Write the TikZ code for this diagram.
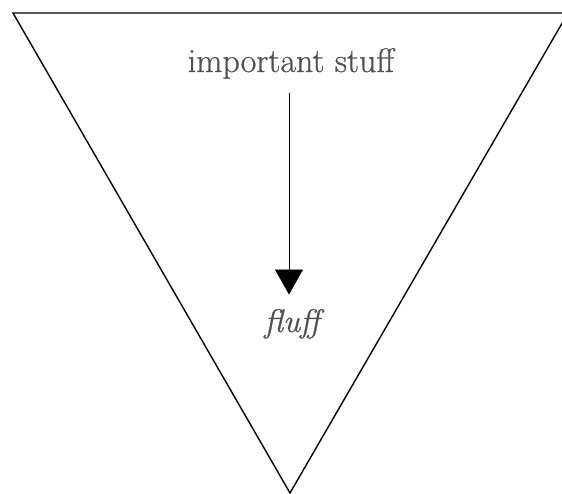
\documentclass[tikz,border=0pt]{standalone}
\usepackage{fontspec}
\newfontfamily\heavyrm{Latin Modern Roman}[FakeBold=0.6]
\usetikzlibrary{arrows.meta}
\definecolor{txtgray}{HTML}{505050}
\tikzset{
  label text/.style={text=txtgray, inner sep=0pt, anchor=base, font=\heavyrm\fontsize{34}{40}\selectfont},
  funnel/.style={draw=black, line width=1.4pt, line join=miter},
  flow/.style={draw=black, line width=0.8pt, -{Triangle[length=25pt,width=28pt]}}
}
\begin{document}
\begin{tikzpicture}[x=1pt,y=-1pt]
\useasboundingbox (0,0) rectangle (562,494);
\coordinate (tl) at (13,13);
\coordinate (tr) at (568,13);
\coordinate (ap) at (290,493);
\draw[funnel] (tl) -- (tr) -- (ap) -- cycle;
\node[label text] (imp) at (291,72) {important stuff};
\node[label text, font=\heavyrm\fontsize{32.5}{39}\selectfont\itshape] (fl) at (292,332) {fluff};
\draw[flow, shorten <=13.7pt, shorten >=14.4pt] (imp.south -| 289,0) -- (fl.north -| 289,0);
\end{tikzpicture}
\end{document}
